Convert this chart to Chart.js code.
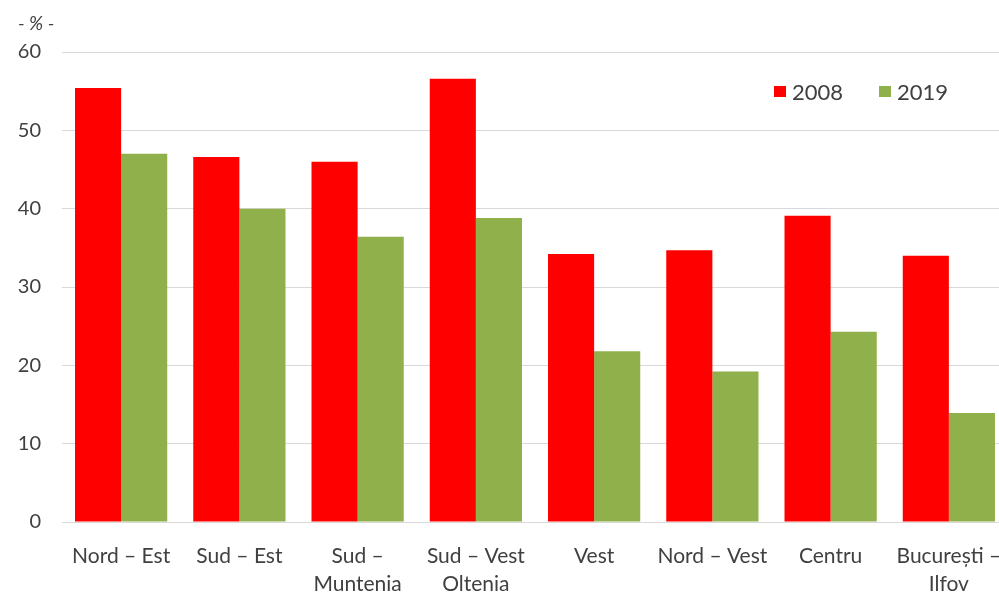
<!DOCTYPE html>
<html>
<head>
<meta charset="utf-8">
<script src="https://cdn.jsdelivr.net/npm/chart.js@4"></script>
<style>
    html, body { margin: 0; padding: 0; background: #ffffff; overflow: hidden; }
    #wrap { position: relative; width: 1010px; height: 595px; }
    #unit { position: absolute; left: 18px; top: 11px; font: italic 19px Lato, sans-serif; color: #404040; }
    .legend { position: absolute; top: 78px; font: 22px Lato, sans-serif; color: #404040; display: flex; align-items: center; }
    .legend span.box { display: inline-block; width: 12px; height: 11px; margin-right: 6px; }
</style>
</head>
<body>
<div id="wrap">
    <canvas id="chart" width="1010" height="595"></canvas>
    <div id="unit">- % -</div>
    <div class="legend" style="left:774px"><span class="box" style="background:#ff0000"></span>2008</div>
    <div class="legend" style="left:879px"><span class="box" style="background:#8fb04a"></span>2019</div>
</div>
<script>
// Regions and values (percent)
const regions = [
    'Nord – Est',
    'Sud – Est',
    ['Sud –', 'Muntenia'],
    ['Sud – Vest', 'Oltenia'],
    'Vest',
    'Nord – Vest',
    'Centru',
    ['București –', 'Ilfov']
];
const values2008 = [55.4, 46.6, 46.0, 56.6, 34.2, 34.7, 39.1, 34.0];
const values2019 = [47.0, 40.0, 36.4, 38.8, 21.8, 19.2, 24.3, 13.9];
const yTicks = [0, 10, 20, 30, 40, 50, 60];

const ctx = document.getElementById('chart');

new Chart(ctx, {
    type: 'bar',
    data: {
        labels: regions,
        datasets: [{
            label: '2008',
            data: values2008,
            backgroundColor: '#ff0000',
            categoryPercentage: 0.78,
            barPercentage: 1.0
        }, {
            label: '2019',
            data: values2019,
            backgroundColor: '#8fb04a',
            categoryPercentage: 0.78,
            barPercentage: 1.0
        }]
    },
    options: {
        responsive: false,
        animation: false,
        layout: {
            padding: { top: 52, right: 2, left: 0, bottom: 0 }
        },
        plugins: {
            legend: { display: false },
            tooltip: { enabled: false }
        },
        scales: {
            x: {
                grid: { display: false },
                border: { color: '#d9d9d9', width: 1 },
                ticks: {
                    color: '#404040',
                    font: { family: 'Lato', size: 21, lineHeight: 1.3 },
                    padding: 13,
                    maxRotation: 0,
                    autoSkip: false
                },
                afterFit: s => {
                    s.height = 73;
                    s.paddingLeft = 0;
                    s.paddingRight = 0;
                }
            },
            y: {
                min: 0,
                max: 60,
                afterBuildTicks: s => { s.ticks = yTicks.map(v => ({ value: v })); },
                grid: { color: '#d9d9d9', drawTicks: false },
                border: { display: false },
                ticks: {
                    color: '#404040',
                    font: { family: 'Lato', size: 20 },
                    padding: 21
                },
                afterFit: s => { s.width = 62; }
            }
        }
    }
});
</script>
</body>
</html>
